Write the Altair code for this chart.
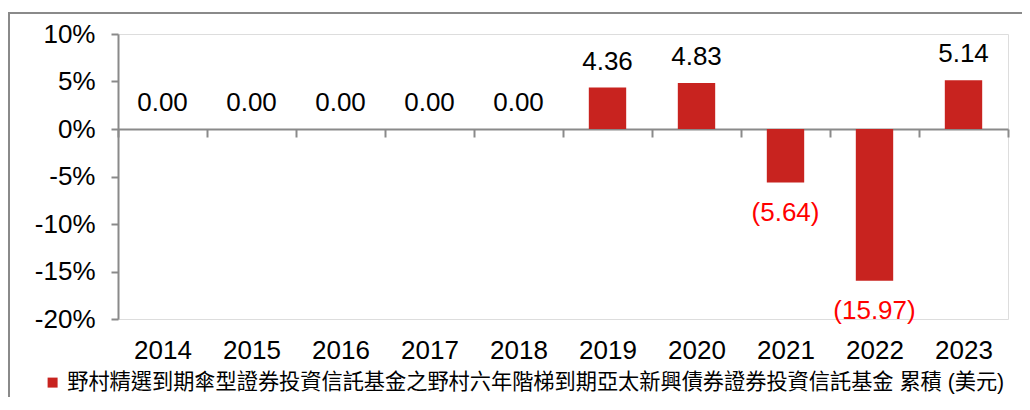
import altair as alt
import pandas as pd

years = ["2014", "2015", "2016", "2017", "2018", "2019", "2020", "2021", "2022", "2023"]
values = [0.00, 0.00, 0.00, 0.00, 0.00, 4.36, 4.83, -5.64, -15.97, 5.14]
series_name = "野村精選到期傘型證券投資信託基金之野村六年階梯到期亞太新興債券證券投資信託基金 累積 (美元)"
y_ticks = [-20, -15, -10, -5, 0, 5, 10]

df = pd.DataFrame({"year": years, "value": values, "series": [series_name] * len(years)})

FONT = "Liberation Sans, Arial, sans-serif"
CJK = "Liberation Sans, 'Noto Sans CJK TC', sans-serif"
GRAY = "#8a8a8a"
BAR = "#C8231F"

W, H = 890, 285

base = alt.Chart(df).transform_calculate(
    label="datum.value < 0 ? '(' + format(-datum.value, '.2f') + ')' : format(datum.value, '.2f')"
)

x_enc = alt.X(
    "year:N",
    sort=years,
    scale=alt.Scale(paddingInner=0, paddingOuter=0),
    axis=alt.Axis(
        title=None,
        offset=-190,
        domainColor=GRAY,
        domainWidth=2,
        tickColor=GRAY,
        tickWidth=2,
        tickSize=8,
        tickBand="extent",
        labelPadding=200,
        labelFontSize=26,
        labelFont=FONT,
        labelColor="#000000",
        labelAngle=0,
        grid=False,
    ),
)

y_enc = alt.Y(
    "value:Q",
    scale=alt.Scale(domain=[-20, 10], nice=False, zero=False),
    axis=alt.Axis(
        title=None,
        values=y_ticks,
        labelExpr="datum.value + '%'",
        domainColor=GRAY,
        domainWidth=2,
        tickColor=GRAY,
        tickWidth=2,
        tickSize=7,
        labelPadding=16,
        labelFontSize=26,
        labelFont=FONT,
        labelColor="#000000",
        grid=False,
    ),
)

bars = base.mark_bar(width={"band": 0.42}).encode(
    x=x_enc,
    y=y_enc,
    y2=alt.datum(0),
    color=alt.Color(
        "series:N",
        scale=alt.Scale(range=[BAR]),
        legend=alt.Legend(
            title=None,
            orient="none",
            legendX=-76,
            legendY=338,
            symbolType="square",
            symbolSize=100,
            symbolStrokeWidth=0,
            symbolOffset=0,
            labelOffset=4,
            labelFontSize=21.2,
            labelFont=CJK,
            labelColor="#000000",
            labelLimit=2000,
            padding=0,
        ),
    ),
)

pos_text = base.transform_filter("datum.value >= 0").mark_text(
    baseline="alphabetic", dy=-18, fontSize=26, font=FONT, color="#000000"
).encode(x=alt.X("year:N", sort=years), y="value:Q", text="label:N")

neg_text = base.transform_filter("datum.value < 0").mark_text(
    baseline="alphabetic", dy=38, fontSize=26, font=FONT, color="#FF0000"
).encode(x=alt.X("year:N", sort=years), y="value:Q", text="label:N")

border = alt.Chart(pd.DataFrame({"a": [0]})).mark_rect(
    fillOpacity=0, stroke=GRAY, strokeWidth=2
).encode(
    x=alt.value(-109), x2=alt.value(1040), y=alt.value(-21), y2=alt.value(500)
)

chart = alt.layer(border, bars, pos_text, neg_text).properties(
    width=W,
    height=H,
    padding={"left": 110, "top": 26, "right": 14, "bottom": 78},
    autosize=alt.AutoSizeParams(type="none"),
).configure_view(stroke=None).configure(background="#ffffff")

chart.save("out.html", embed_options={"renderer": "svg", "actions": False})
